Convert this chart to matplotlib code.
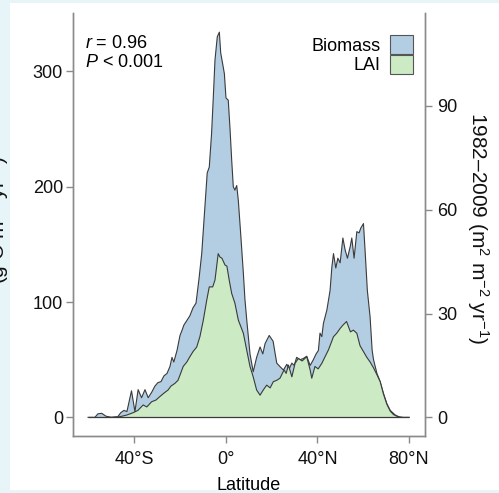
import matplotlib
matplotlib.use('Agg')
import matplotlib.pyplot as plt
from matplotlib.patches import Patch, Rectangle

plt.rcParams['font.family'] = ['Liberation Sans', 'DejaVu Sans']
plt.rcParams['mathtext.fontset'] = 'custom'
plt.rcParams['mathtext.rm'] = 'Liberation Sans'
plt.rcParams['mathtext.it'] = 'Liberation Sans:italic'
plt.rcParams['mathtext.default'] = 'regular'

# biomass trend along latitude (left axis)
lat_bio = [-60.3, -57.3, -56.0, -54.3, -52.5, -49.9, -47.3, -46.0, -44.6, -43.3,
           -41.3, -39.8, -38.4, -36.9, -35.4, -34.0, -32.4, -31.1, -29.8, -28.4,
           -27.1, -25.8, -24.5, -23.6, -22.8, -21.4, -20.1, -19.3, -18.4, -17.1,
           -15.8, -14.4, -13.1, -11.8, -10.6, -9.2, -8.2, -7.3, -6.3, -5.6,
           -4.8, -3.8, -2.9, -2.3, -1.4, -0.7, 0.0, 1.0, 1.8, 2.5,
           3.2, 3.9, 4.7, 5.4, 6.4, 7.6, 8.3, 9.1, 10.5, 11.9,
           13.4, 14.9, 16.1, 17.1, 18.9, 20.6, 22.2, 23.6, 25.1, 26.6,
           27.6, 28.8, 29.8, 30.9, 32.4, 33.8, 35.3, 36.8, 38.2, 39.4,
           40.4, 41.1, 41.9, 42.6, 44.1, 45.5, 46.3, 47.0, 48.0, 48.9,
           49.9, 51.1, 52.1, 53.1, 54.3, 55.0, 56.0, 57.2, 58.2, 58.9,
           60.1, 60.8, 61.8, 63.0, 63.9, 64.5, 66.0, 67.4, 68.8, 70.3,
           71.8, 74.0, 76.1, 80.1]
bio = [0, 0, 3, 3.5, 1, 0, 0.5, 4, 6, 5,
       23, 5, 24, 17, 24, 17, 22, 27, 30, 31,
       36, 38, 44, 52, 48, 58, 71, 75, 80, 84,
       88, 95, 99, 120, 142, 183, 212, 217, 246, 275,
       310, 330, 334, 316, 306, 298, 277, 275, 249, 223,
       200, 197, 201, 188, 160, 125, 102, 84, 55, 39.5,
       52, 61, 55, 64, 71, 66, 47, 44, 41, 46,
       42, 47, 45, 52, 50, 51, 53, 45, 50, 55,
       58, 73, 70, 81.5, 93, 110, 130.6, 142, 129.5, 138,
       134, 155.5, 145, 138, 148, 155.5, 138, 161, 160, 164,
       168, 145, 110, 87, 58, 50, 38, 31, 21, 12,
       6, 2, 0, 0]

# LAI trend along latitude (right axis)
lat_lai = [-49.9, -46.4, -43.3, -40.6, -38.5, -36.2, -34.6, -32.5, -30.6, -28.9,
           -27.1, -25.3, -24.1, -22.3, -21.0, -20.1, -18.7, -17.1, -15.8, -14.4,
           -12.8, -11.4, -9.9, -8.4, -7.3, -5.8, -4.8, -3.4, -2.6, -1.8,
           -0.4, 0.4, 1.4, 2.5, 3.9, 5.4, 7.6, 9.1, 10.5, 11.9,
           13.4, 14.9, 16.3, 17.8, 19.3, 20.7, 22.2, 23.6, 25.4, 26.3,
           27.3, 28.8, 30.2, 31.6, 33.3, 35.3, 36.8, 37.5, 38.9, 40.3,
           41.9, 43.3, 44.8, 47.0, 48.4, 49.9, 51.2, 52.7, 54.4, 55.7,
           57.2, 58.6, 60.1, 61.6, 63.0, 64.5, 66.0, 67.4, 68.8, 70.3,
           71.8, 73.2, 74.8, 77.0]
lai = [0, 0.17, 0.67, 1.33, 2.0, 3.57, 3.0, 4.5, 5.0, 6.0,
       7.0, 7.9, 9.0, 9.83, 10.67, 12.2, 14.7, 16.0, 17.5, 19.0,
       20.3, 23.3, 28.1, 33.9, 37.7, 37.7, 39.7, 47.3, 46.3, 46.0,
       44.0, 43.7, 39.7, 35.8, 33.0, 28.1, 24.3, 19.3, 14.7, 11.7,
       7.9, 6.4, 7.9, 9.3, 8.5, 10.3, 10.7, 11.3, 13.7, 12.7,
       15.1, 11.7, 15.6, 17.0, 16.3, 17.5, 13.7, 11.3, 14.7, 14.0,
       15.6, 17.5, 19.5, 23.3, 24.3, 25.7, 26.7, 27.7, 24.7, 25.2,
       24.3, 20.7, 19.0, 17.3, 16.0, 14.3, 12.3, 10.3, 6.8, 3.8,
       1.8, 0.8, 0.27, 0]

xticks = [-40, 0, 40, 80]
xticklabels = ['40°S', '0°', '40°N', '80°N']
bio_color = '#b3cde3'
lai_color = '#ccebc5'
line_color = '#3a3a3a'
axis_color = '#8a8a8a'

fig = plt.figure(figsize=(4.99, 4.93), dpi=100)
fig.patch.set_facecolor('#e8f5f8')
fig.add_artist(Rectangle((10/499, 3/493), 489/499, 487/493, transform=fig.transFigure,
                         facecolor='white', edgecolor='none', zorder=-5))

ax = fig.add_axes([0.1457, 0.1156, 0.706, 0.858])
ax2 = ax.twinx()
ylo, yhi = -16.2, 350.6
ax.set_ylim(ylo, yhi)
ax2.set_ylim(ylo / 3, yhi / 3)
ax.set_xlim(-67, 87)

ax.fill_between(lat_bio, 0, bio, facecolor=bio_color, edgecolor='none')
ax.plot(lat_bio, bio, color=line_color, lw=0.8)
ax2.fill_between(lat_lai, 0, lai, facecolor=lai_color, edgecolor='none')
ax2.plot(lat_lai, lai, color=line_color, lw=0.8)
ax2.hlines(0, lat_bio[0], lat_bio[-1], color=line_color, lw=0.9)

ax.set_xticks(xticks)
ax.set_xticklabels(xticklabels)
ax.set_yticks([0, 100, 200, 300])
ax2.set_yticks([0, 30, 60, 90])

for a in (ax, ax2):
    a.spines['top'].set_visible(False)
    for s in a.spines.values():
        s.set_color(axis_color)
        s.set_linewidth(1.0)
ax.tick_params(axis='both', colors=axis_color, labelcolor='#111111', labelsize=13,
               length=5, width=1)
ax.tick_params(axis='x', pad=6)
ax.tick_params(axis='y', pad=2)
ax2.tick_params(axis='y', colors=axis_color, labelcolor='#111111', labelsize=13,
                length=5, width=1, pad=4)

ax.set_xlabel('Latitude', fontsize=13, labelpad=6)

ax.text(0.035, 0.929, '$\\mathit{r}$ = 0.96', transform=ax.transAxes, fontsize=13,
        va='center', ha='left')
ax.text(0.035, 0.882, '$\\mathit{P}$ < 0.001', transform=ax.transAxes, fontsize=13,
        va='center', ha='left')

handles = [Patch(facecolor=bio_color, edgecolor='#555555', lw=0.8, label='Biomass'),
           Patch(facecolor=lai_color, edgecolor='#555555', lw=0.8, label='LAI')]
ax2.legend(handles=handles, loc='upper right', bbox_to_anchor=(0.965, 0.948),
           frameon=False, markerfirst=False, handlelength=1.27, handleheight=1.27,
           labelspacing=0, handletextpad=0.5, borderpad=0, borderaxespad=0,
           fontsize=13)

# axis titles, partly cut off at the figure edges as in the source
fig.text(11/499, 1 - 220/493, '(g C m$^{-2}$ yr$^{-1}$)', rotation=90, fontsize=15,
         ha='right', va='center', color='#111111')
fig.text(478/499, 1 - 228/493, '1982–2009 (m$^{2}$ m$^{-2}$ yr$^{-1}$)',
         rotation=270, fontsize=15, ha='center', va='center', color='#111111')
fig.text(507/499, 1 - 215/493, 'Trend in growing-season LAI',
         rotation=270, fontsize=15, ha='center', va='center', color='#111111')

fig.savefig('out.png', dpi=100, facecolor=fig.get_facecolor())
